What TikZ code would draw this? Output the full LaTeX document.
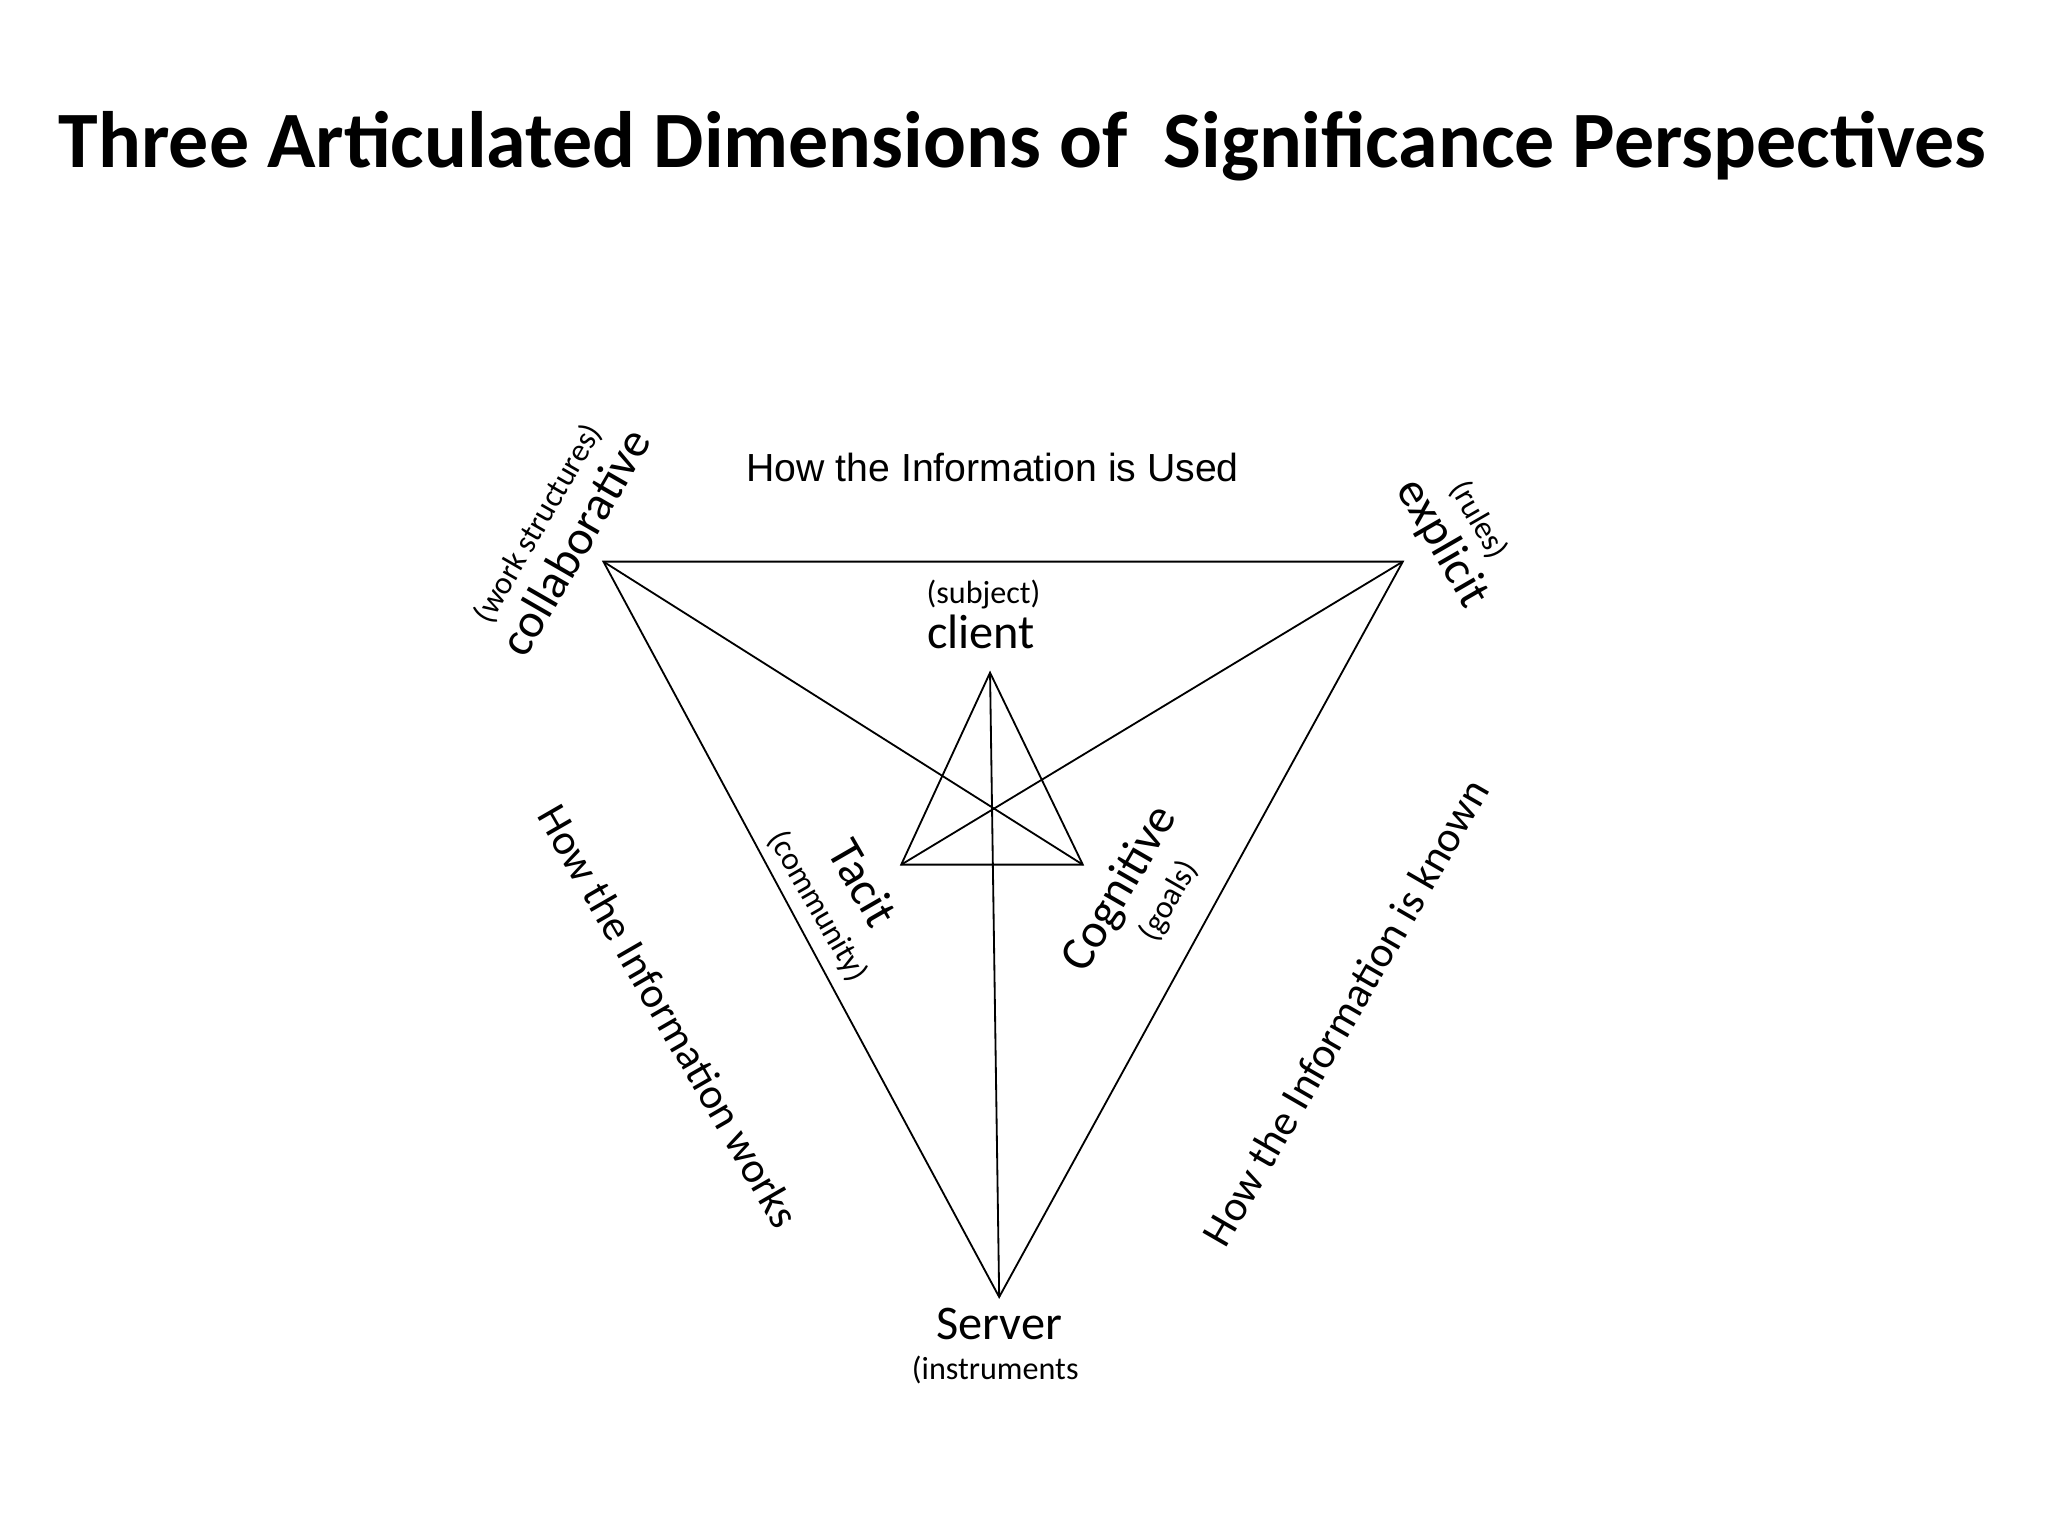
\documentclass[tikz,border=0pt]{standalone}
\usepackage{fontspec}
\setmainfont{Carlito}
\newfontfamily\arialf{Liberation Sans}
\begin{document}
\begin{tikzpicture}[x=0.5pt,y=-0.5pt,
  ln/.style={line width=0.7pt},
  big/.style={font=\fontsize{18.5}{19}\selectfont, inner sep=0pt},
  small/.style={font=\fontsize{12.3}{13}\selectfont, inner sep=0pt}]
\useasboundingbox (0,0) rectangle (1568,1176);
\node[font=\bfseries\fontsize{30.6}{32}\selectfont] (title) at (783,112) {Three Articulated Dimensions of\ \ Significance Perspectives};
\coordinate (A) at (462,430); \coordinate (B) at (1074,430); \coordinate (C) at (765,993);
\coordinate (T) at (758,515); \coordinate (L) at (690,662); \coordinate (R) at (829,662);
\draw[ln] (A) -- (B) -- (C) -- cycle;
\draw[ln] (T) -- (L) -- (R) -- cycle;
\draw[ln] (A) -- (R); \draw[ln] (B) -- (L); \draw[ln] (T) -- (C);
\node[font=\arialf\fontsize{15}{16}\selectfont] (used) at (760,358) {How the Information is Used};
\node[small] (subj) at (753,455) {(subject)};
\node[big] (client) at (751,484) {client};
\node[big] (server) at (765,1014) {Server};
\node[small] (instr) at (762,1049) {(instruments};
\node[big,rotate=60] (collab) at (440,415) {collaborative};
\node[small,rotate=60] (work) at (412,401) {(work structures)};
\node[big,rotate=-60] (expl) at (1104,416) {explicit};
\node[small,rotate=-60] (rules) at (1132,398) {(rules)};
\node[big,rotate=-60] (tacit) at (661,676) {Tacit};
\node[small,rotate=-60] (comm) at (626,694) {(community)};
\node[big,rotate=60] (cog) at (858,681) {Cognitive};
\node[small,rotate=60] (goals) at (895,690) {(goals)};
\node[big,rotate=-60,font=\fontsize{16.5}{17}\selectfont] (works) at (512,778) {How the Information works};
\node[big,rotate=60,font=\fontsize{16.5}{17}\selectfont] (known) at (1030,775) {How the Information is known};
\end{tikzpicture}
\end{document}
